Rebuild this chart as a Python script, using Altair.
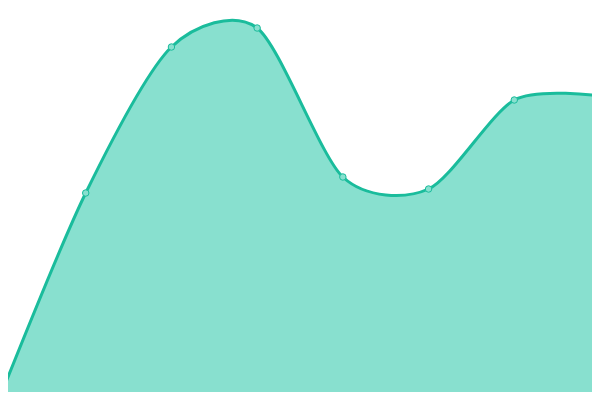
import altair as alt
import pandas as pd

xs = [0, 1, 2, 3, 4, 5, 6, 7]
values = [3, 207, 353, 372, 223, 211, 300, 304]

df = pd.DataFrame({"x": xs, "v": values})

# visible region of the page (8px body margin) mapped so the series spans the full window
step = 600 / 7
x0 = 8 / step
x1 = x0 + 584 / step
xenc = alt.X("x:Q", scale=alt.Scale(domain=[x0, x1], nice=False, zero=False), axis=None)
yenc = alt.Y("v:Q", scale=alt.Scale(domain=[8, 392], nice=False, zero=False), axis=None)

area = alt.Chart(df).mark_area(
    interpolate="cardinal", tension=0.2, color="#88e0cf", opacity=1, clip=True,
    line={"color": "#1abc9c", "strokeWidth": 3},
).encode(x=xenc, y=yenc)

pts = alt.Chart(df).mark_point(
    filled=True, size=42, fill="#88e0cf", stroke="#1abc9c", strokeWidth=1, opacity=1, clip=True
).encode(x=xenc, y=yenc)

chart = (area + pts).properties(
    width=584, height=384, padding=0, background="white",
    autosize=alt.AutoSizeParams(type="fit", contains="padding"),
).configure_view(strokeWidth=0, stroke="transparent")

chart.save("out.html", embed_options={"renderer": "svg", "actions": False})
